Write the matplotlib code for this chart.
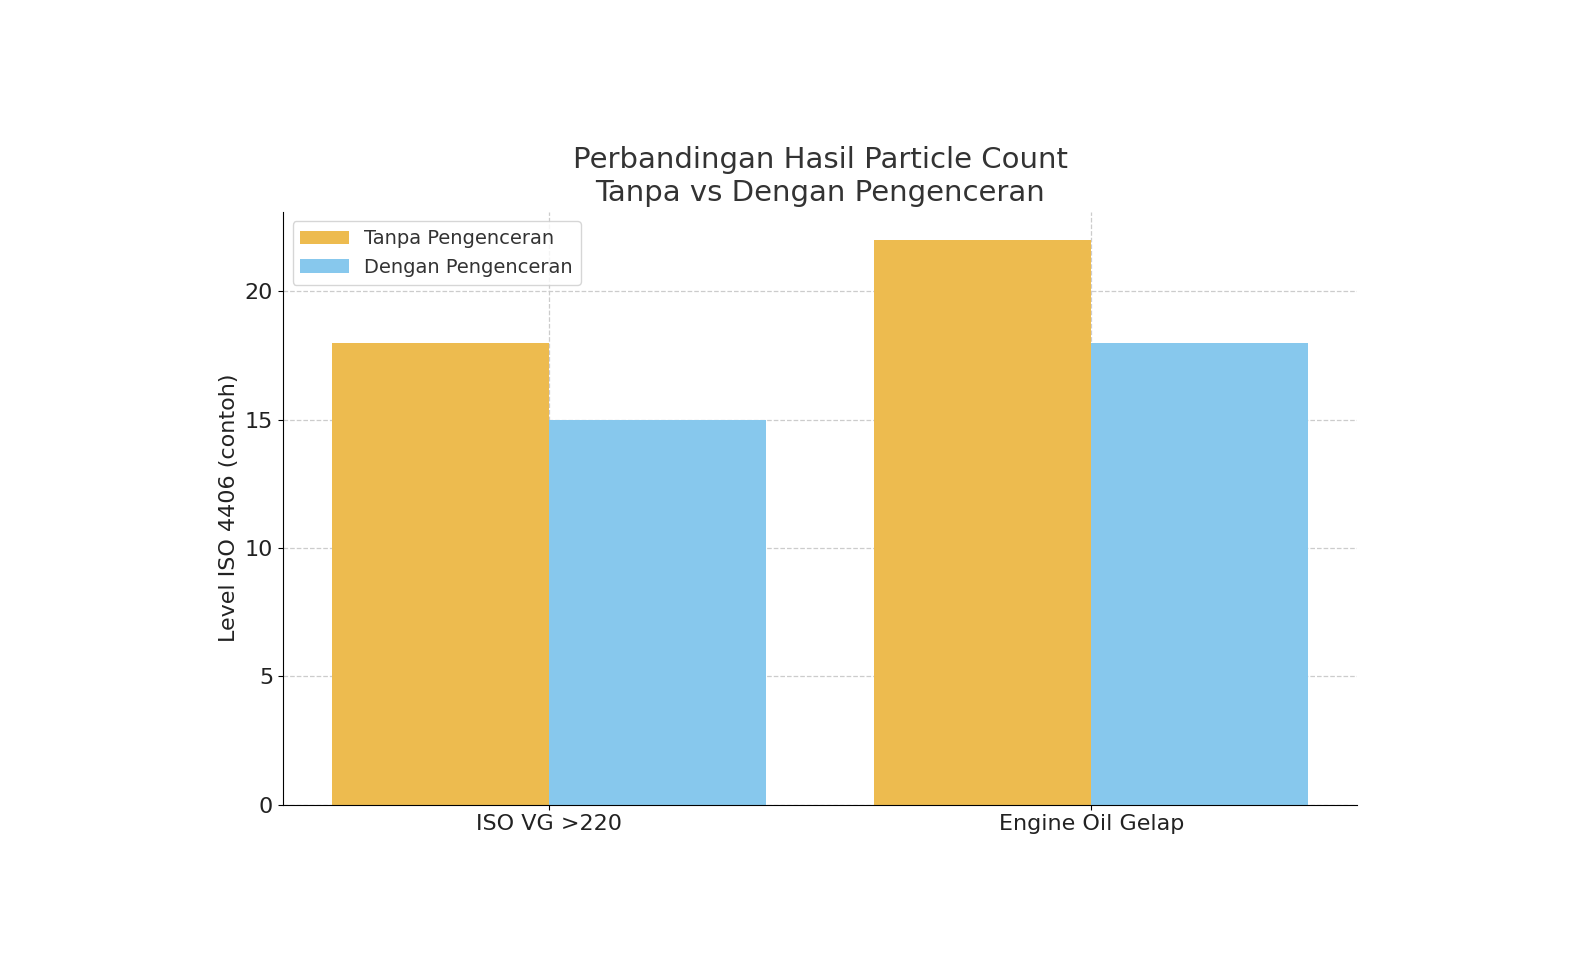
import matplotlib
matplotlib.use("Agg")
import matplotlib.pyplot as plt
import numpy as np

kategori = ["ISO VG >220", "Engine Oil Gelap"]
tanpa = [18, 22]
dengan = [15, 18]

fig = plt.figure(figsize=(15.8, 9.8), dpi=100)
ax = fig.add_axes([0.179, 0.179, 0.68, 0.605])

x = np.arange(len(kategori))
w = 0.4
ax.bar(x - w / 2, tanpa, w, color="#EDBB4F", label="Tanpa Pengenceran", zorder=2)
ax.bar(x + w / 2, dengan, w, color="#87C8ED", label="Dengan Pengenceran", zorder=2)

ax.set_xticks(x)
ax.set_xticklabels(kategori, fontsize=16, color="#222222")
ax.tick_params(axis="y", labelsize=16, labelcolor="#222222")
ax.set_ylabel("Level ISO 4406 (contoh)", fontsize=16, color="#222222")
ax.set_title("Perbandingan Hasil Particle Count\nTanpa vs Dengan Pengenceran",
             fontsize=21, color="#333333", pad=8)
ax.grid(True, linestyle="--", color="#cccccc", linewidth=0.9, zorder=0)
ax.spines["top"].set_visible(False)
ax.spines["right"].set_visible(False)
ax.legend(loc="upper left", fontsize=14, handlelength=2.5, labelcolor="#333333")

plt.savefig("out.png", dpi=100)
